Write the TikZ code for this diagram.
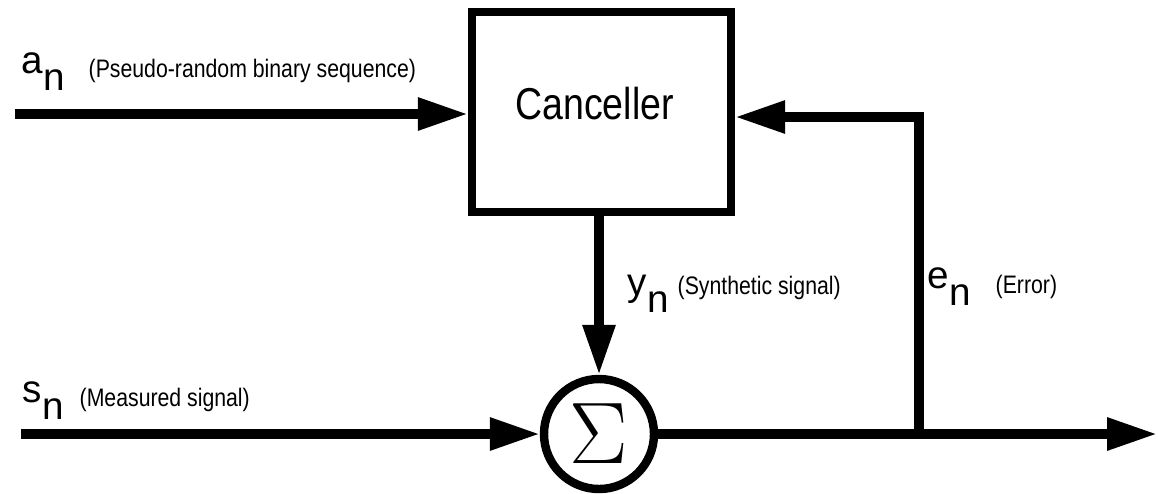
\documentclass[tikz,border=0pt]{standalone}
\usepackage{fontspec}
\setmainfont{Liberation Sans}
\newfontfamily\narrowfont{Liberation Sans}[FakeStretch=0.84]
\usetikzlibrary{arrows.meta,positioning,calc}

\newcommand{\signame}[1]{#1\raisebox{-1.7mm}{n}}

\begin{document}
\begin{tikzpicture}[>={Triangle[length=5mm,width=3.1mm]}]
\tikzset{
  block/.style={draw,line width=2.4pt,minimum width=2.59cm,minimum height=2cm,font=\narrowfont\fontsize{12.7}{14}\selectfont,text depth=1.7mm},
  adder/.style={draw,circle,line width=2.4pt,minimum size=1.1cm,inner sep=0pt,font=\fontsize{26}{26}\selectfont},
  sig/.style={->,line width=2.6pt},
  sigtag/.style={anchor=base west,inner sep=0pt,font=\fontsize{11}{13}\selectfont},
  note/.style={anchor=base west,inner sep=0pt,font=\narrowfont\fontsize{7.2}{8}\selectfont}
}
\useasboundingbox (0,0) rectangle (11.58,-4.93);

\node[block] (canc) at (6.015,-1.12) {Canceller\hspace*{1.4mm}};
\node[adder] (sum) at (5.99,-4.34) {$\Sigma$};

\coordinate (ain) at (0.15,-1.14);
\coordinate (sin) at (0.21,-4.34);
\coordinate (tap) at (9.19,-4.34);
\coordinate (fb) at (9.19,-1.17);
\coordinate (out) at (11.57,-4.34);

% signal paths
\draw[sig] (ain) -- (ain -| canc.west);
\draw[sig] (sin) -- (sum.west);
\draw[sig] (canc.south -| sum) -- (sum.north);
\draw[sig] (sum.east) -- (out);
\draw[sig] (tap) -- (fb) -- (fb -| canc.east);

% labels
\node[sigtag] (alab) at (0.21,-0.73) {\signame{a}};
\node[note] (anote) at (0.88,-0.77) {(Pseudo-random binary sequence)};
\node[sigtag] (slab) at (0.22,-4.02) {\signame{s}};
\node[note] (snote) at (0.79,-4.06) {(Measured signal)};
\node[sigtag] (ylab) at (6.27,-2.95) {\signame{y}};
\node[note] (ynote) at (6.77,-2.94) {(Synthetic signal)};
\node[sigtag] (elab) at (9.27,-2.88) {\signame{e}};
\node[note] (enote) at (9.95,-2.93) {(Error)};
\end{tikzpicture}
\end{document}
